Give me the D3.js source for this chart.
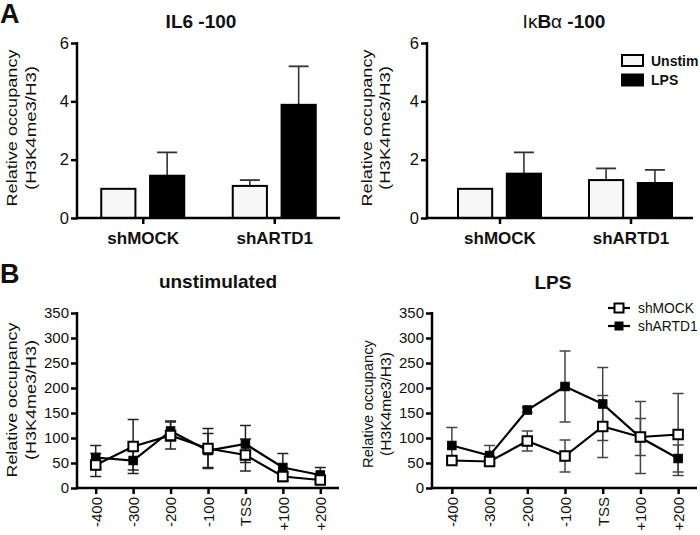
<!DOCTYPE html>
<html><head><meta charset="utf-8">
<script src="https://cdn.jsdelivr.net/npm/d3@7"></script>
<style>
body{margin:0;background:#fff}
svg{display:block}
text{font-family:"Liberation Sans",Arial,Helvetica,sans-serif;fill:#111}
</style>
</head><body>
<svg id="chart" width="700" height="535"></svg>
<script>
// ---------- DATA ----------
const groups = ["shMOCK", "shARTD1"];
const conditions = ["Unstim", "LPS"];
const il6Unstim = [1.0, 1.1];
const il6UnstimErr = [0, 0.2];
const il6Lps = [1.45, 3.88];
const il6LpsErr = [0.8, 1.32];
const ikbUnstim = [1.0, 1.3];
const ikbUnstimErr = [0, 0.4];
const ikbLps = [1.52, 1.2];
const ikbLpsErr = [0.73, 0.45];
const barTicks = [0, 2, 4, 6];

const positions = ["-400", "-300", "-200", "-100", "TSS", "+100", "+200"];
const seriesNames = ["shMOCK", "shARTD1"];
const unstimMock = [46, 83, 105, 79, 66, 23, 16];
const unstimMockErr = [23, 54, 27, 40, 32, 8, 5];
const unstimArtd = [61, 55, 114, 75, 88, 41, 26];
const unstimArtdErr = [24, 19, 20, 34, 37, 28, 15];
const lpsMock = [55, 53, 94, 64, 123, 102, 107];
const lpsMockErr = [5, 5, 20, 32, 62, 37, 82];
const lpsArtd = [85, 65, 156, 203, 168, 101, 59];
const lpsArtdErr = [36, 20, 5, 71, 73, 72, 27];
const lineTicks = [0, 50, 100, 150, 200, 250, 300, 350];

// ---------- HELPERS ----------
const svg = d3.select("#chart");
const AXW = 2.5;

function styleAxis(g) {
  g.selectAll("line").attr("stroke", "#000").attr("stroke-width", AXW);
  g.selectAll(".domain").remove();
}

function yTitle(x1, x2, cy, len1, len2, size) {
  svg.append("text")
    .attr("transform", `translate(${x1},${cy}) rotate(-90)`)
    .attr("text-anchor", "middle")
    .attr("font-size", size)
    .attr("textLength", len1).attr("lengthAdjust", "spacingAndGlyphs")
    .text("Relative occupancy");
  svg.append("text")
    .attr("transform", `translate(${x2},${cy}) rotate(-90)`)
    .attr("text-anchor", "middle")
    .attr("font-size", size)
    .attr("textLength", len2).attr("lengthAdjust", "spacingAndGlyphs")
    .text("(H3K4me3/H3)");
}

// ---------- BAR PANELS ----------
function barPanel(opt) {
  const y = d3.scaleLinear().domain([0, 6]).range([218, 43]);
  const x = d3.scalePoint().domain(groups).range(opt.xr).padding(0.5);
  const x1 = d3.scaleBand().domain(conditions).range([-41.5, 41.5]).paddingInner(0.3);
  const bw = x1.bandwidth();
  const rows = [];
  groups.forEach((gname, i) => {
    rows.push({g: gname, c: "Unstim", v: opt.unstim[i], e: opt.unstimErr[i]});
    rows.push({g: gname, c: "LPS", v: opt.lps[i], e: opt.lpsErr[i]});
  });
  const gp = svg.append("g");
  const eb = gp.selectAll(".eb").data(rows.filter(d => d.e > 0)).join("g");
  eb.append("line")
    .attr("x1", d => x(d.g) + x1(d.c) + bw / 2).attr("x2", d => x(d.g) + x1(d.c) + bw / 2)
    .attr("y1", d => y(d.v)).attr("y2", d => y(d.v + d.e))
    .attr("stroke", "#333").attr("stroke-width", 1.6);
  eb.append("line")
    .attr("x1", d => x(d.g) + x1(d.c) + bw / 2 - 10).attr("x2", d => x(d.g) + x1(d.c) + bw / 2 + 10)
    .attr("y1", d => y(d.v + d.e)).attr("y2", d => y(d.v + d.e))
    .attr("stroke", "#333").attr("stroke-width", 1.8);
  gp.selectAll(".bar").data(rows).join("rect")
    .attr("x", d => x(d.g) + x1(d.c))
    .attr("width", bw)
    .attr("y", d => y(d.v))
    .attr("height", d => y(0) - y(d.v))
    .attr("fill", d => d.c === "Unstim" ? "#f7f7f7" : "#000")
    .attr("stroke", "#000").attr("stroke-width", 2);
  const ya = gp.append("g").attr("transform", `translate(${opt.ax},0)`)
    .call(d3.axisLeft(y).tickValues(barTicks).tickSize(6).tickPadding(2).tickFormat(d3.format("d")));
  styleAxis(ya);
  ya.selectAll("text").attr("font-size", 16.5).attr("fill", "#111");
  const xa = gp.append("g").attr("transform", `translate(0,${y(0)})`)
    .call(d3.axisBottom(x).tickSize(6).tickPadding(4));
  styleAxis(xa);
  xa.selectAll("text").attr("font-size", 17).attr("font-weight", "bold").attr("fill", "#111").attr("dy", "0.95em");
  gp.append("line").attr("x1", opt.ax).attr("x2", opt.xEnd).attr("y1", y(0)).attr("y2", y(0))
    .attr("stroke", "#000").attr("stroke-width", AXW);
  gp.append("line").attr("x1", opt.ax).attr("x2", opt.ax).attr("y1", y(0) + 1.25).attr("y2", y(6) - 1)
    .attr("stroke", "#000").attr("stroke-width", AXW);
}

barPanel({xr: [77, 340], ax: 77, xEnd: 340, unstim: il6Unstim, unstimErr: il6UnstimErr, lps: il6Lps, lpsErr: il6LpsErr});
barPanel({xr: [434, 696], ax: 427, xEnd: 693, unstim: ikbUnstim, unstimErr: ikbUnstimErr, lps: ikbLps, lpsErr: ikbLpsErr});

svg.append("text").attr("x", 0).attr("y", 23).attr("font-size", 27).attr("font-weight", "bold").text("A");
svg.append("text").attr("x", 201).attr("y", 28).attr("text-anchor", "middle").attr("font-size", 19).attr("font-weight", "bold").text("IL6 -100");
const t2 = svg.append("text").attr("x", 564).attr("y", 28).attr("text-anchor", "middle").attr("font-size", 19);
t2.append("tspan").text("I");
t2.append("tspan").text("\u03BA");
t2.append("tspan").attr("font-weight", "bold").text("B");
t2.append("tspan").text("\u03B1");
t2.append("tspan").attr("font-weight", "bold").text(" -100");

yTitle(17, 36, 128, 157, 124, 15.5);
yTitle(372, 390, 128, 157, 124, 15.5);

const legA = svg.append("g");
conditions.forEach((c, i) => {
  legA.append("rect").attr("x", 622).attr("y", 55 + i * 19.5).attr("width", 21).attr("height", 11)
    .attr("fill", c === "Unstim" ? "#f7f7f7" : "#000").attr("stroke", "#000").attr("stroke-width", 2);
  legA.append("text").attr("x", 651).attr("y", 60.5 + i * 19.5).attr("dy", "0.36em")
    .attr("font-size", 14).attr("font-weight", "bold").text(c);
});

// ---------- LINE PANELS ----------
function linePanel(opt) {
  const y = d3.scaleLinear().domain([0, 350]).range([488, 313]);
  const x = d3.scalePoint().domain(positions).range(opt.xr).padding(0.5);
  const gp = svg.append("g");
  const sets = [
    {name: "shARTD1", v: opt.artd, e: opt.artdErr, filled: true},
    {name: "shMOCK", v: opt.mock, e: opt.mockErr, filled: false}
  ];
  const line = d3.line().x((d, i) => x(positions[i])).y(d => y(d));
  sets.forEach(s => {
    const eg = gp.append("g").attr("stroke", opt.errColor).attr("stroke-width", 1.5);
    positions.forEach((p, i) => {
      const cx = x(p), lo = y(s.v[i] - s.e[i]), hi = y(s.v[i] + s.e[i]);
      eg.append("line").attr("x1", cx).attr("x2", cx).attr("y1", lo).attr("y2", hi);
      eg.append("line").attr("x1", cx - 5.5).attr("x2", cx + 5.5).attr("y1", lo).attr("y2", lo);
      eg.append("line").attr("x1", cx - 5.5).attr("x2", cx + 5.5).attr("y1", hi).attr("y2", hi);
    });
  });
  sets.forEach(s => {
    gp.append("path").datum(s.v).attr("d", line).attr("fill", "none").attr("stroke", "#000").attr("stroke-width", 2.2);
  });
  sets.forEach(s => {
    const sz = s.filled ? 8.5 : 9.5;
    gp.selectAll(null).data(s.v).join("rect")
      .attr("x", (d, i) => x(positions[i]) - sz / 2).attr("y", d => y(d) - sz / 2)
      .attr("width", sz).attr("height", sz)
      .attr("fill", s.filled ? "#000" : "#fff").attr("stroke", "#000").attr("stroke-width", s.filled ? 1 : 2);
  });
  const ya = gp.append("g").attr("transform", `translate(${opt.ax},0)`)
    .call(d3.axisLeft(y).tickValues(lineTicks).tickSize(6).tickPadding(2).tickFormat(d3.format("d")));
  styleAxis(ya);
  ya.selectAll("text").attr("font-size", 15).attr("fill", "#111");
  const xa = gp.append("g").attr("transform", `translate(0,${y(0)})`)
    .call(d3.axisBottom(x).tickSize(6));
  styleAxis(xa);
  xa.selectAll("text").attr("font-size", 15).attr("fill", "#111")
    .attr("transform", "rotate(-90)").attr("text-anchor", "end")
    .attr("x", -9).attr("y", 0).attr("dy", "0.36em");
  gp.append("line").attr("x1", opt.ax).attr("x2", opt.xEnd).attr("y1", y(0)).attr("y2", y(0))
    .attr("stroke", "#000").attr("stroke-width", AXW);
  gp.append("line").attr("x1", opt.ax).attr("x2", opt.ax).attr("y1", y(0) + 1.25).attr("y2", y(350) - 1)
    .attr("stroke", "#000").attr("stroke-width", AXW);
}

linePanel({xr: [77, 339], ax: 77, xEnd: 339, mock: unstimMock, mockErr: unstimMockErr, artd: unstimArtd, artdErr: unstimArtdErr, errColor: "#222"});
linePanel({xr: [433, 697], ax: 432, xEnd: 697, mock: lpsMock, mockErr: lpsMockErr, artd: lpsArtd, artdErr: lpsArtdErr, errColor: "#444"});

svg.append("text").attr("x", 0).attr("y", 283).attr("font-size", 27).attr("font-weight", "bold").text("B");
svg.append("text").attr("x", 218).attr("y", 288).attr("text-anchor", "middle").attr("font-size", 19).attr("font-weight", "bold").text("unstimulated");
svg.append("text").attr("x", 553).attr("y", 289).attr("text-anchor", "middle").attr("font-size", 19).attr("font-weight", "bold").text("LPS");

yTitle(17, 36, 400, 155, 120, 15.5);
yTitle(373, 391, 404, 128, 104, 14);

const legB = svg.append("g");
seriesNames.forEach((s, i) => {
  const cy = 308 + i * 18;
  legB.append("line").attr("x1", 608).attr("x2", 630).attr("y1", cy).attr("y2", cy).attr("stroke", "#000").attr("stroke-width", 2.2);
  const sz = s === "shMOCK" ? 9 : 8;
  legB.append("rect").attr("x", 619 - sz / 2).attr("y", cy - sz / 2).attr("width", sz).attr("height", sz)
    .attr("fill", s === "shMOCK" ? "#fff" : "#000").attr("stroke", "#000").attr("stroke-width", s === "shMOCK" ? 2 : 1);
  legB.append("text").attr("x", 638).attr("y", cy).attr("dy", "0.36em").attr("font-size", 13.8).attr("fill", "#333").text(s);
});
</script>
</body></html>
